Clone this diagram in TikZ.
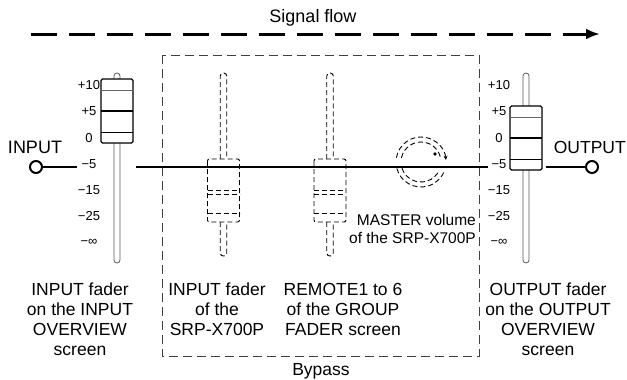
\documentclass[tikz,border=0pt]{standalone}
\usepackage{fontspec}
\setmainfont{Liberation Sans}
\usetikzlibrary{arrows.meta}

\tikzset{
  labeltext/.style={font=\fontsize{17.5}{20}\selectfont, align=center, inner sep=0pt},
  smalltext/.style={font=\fontsize{15.5}{18}\selectfont, align=right, inner sep=0pt},
  scaletext/.style={font=\fontsize{13}{13}\selectfont, inner sep=0pt},
  jack/.style={circle, draw, line width=2pt, minimum size=12pt, inner sep=0pt, fill=white},
  signal/.style={line width=2.4pt},
  flow/.style={line width=3pt, dash pattern=on 26pt off 12pt, -{Latex[length=14pt,width=11pt]}},
  bypass/.style={draw=black!75, line width=0.9pt, dash pattern=on 9pt off 5pt},
  ghost/.style={line width=0.9pt, dash pattern=on 5pt off 3pt},
}

% real fader: x of slot, y of knob top
\newcommand{\realfader}[2]{%
  \draw[line width=0.8pt, black!65, rounded corners=3pt] (#1-3,263) -- (#1-3,73) -- (#1+3,73) -- (#1+3,263) -- cycle;
  \draw[line width=1.1pt, fill=white, rounded corners=1.5pt] (#1-16,#2) rectangle (#1+16,#2+64);
  \draw[line width=1pt, black!60] (#1-16,#2+11) -- (#1+16,#2+11);
  \draw[line width=2.5pt] (#1-16,#2+32) -- (#1+16,#2+32);
  \draw[line width=1pt] (#1-16,#2+53) -- (#1+16,#2+53);
}
% dashed fader: x of slot
\newcommand{\ghostfader}[1]{%
  \draw[ghost, rounded corners=3pt] (#1-3.25,159) -- (#1-3.25,73) -- (#1+3.25,73) -- (#1+3.25,159);
  \draw[ghost, rounded corners=3pt] (#1-3.25,222) -- (#1-3.25,256) -- (#1+3.25,256) -- (#1+3.25,222);
  \draw[ghost, rounded corners=2pt] (#1-16,159) rectangle (#1+16,222);
  \draw[ghost] (#1-16,190) -- (#1+16,190);
  \draw[ghost] (#1-16,194) -- (#1+16,194);
  \draw[ghost] (#1-16,213) -- (#1+16,213);
}

\begin{document}
\begin{tikzpicture}[x=1pt, y=-1pt]
  \useasboundingbox (0,0) rectangle (627,380);

  % signal flow
  \node[labeltext, font=\fontsize{18}{20}\selectfont] (flowlabel) at (313,18) {Signal flow};
  \coordinate (flowstart) at (31,34);
  \coordinate (flowend) at (600,34);
  \draw[flow] (flowstart) -- (flowend);

  % bypass box
  \draw[bypass] (162,55) rectangle (479,356);
  \node[labeltext, anchor=base] (bypasslabel) at (321,375) {Bypass};

  % input and output
  \node[labeltext, font=\fontsize{18}{20}\selectfont] (inlabel) at (35,147) {INPUT};
  \node[labeltext, font=\fontsize{17.5}{20}\selectfont, anchor=east] (outlabel) at (626,147) {OUTPUT};
  \node[jack] (in) at (36,167) {};
  \node[jack] (out) at (592,167) {};
  \coordinate (inend) at (77,167);
  \coordinate (midstart) at (136,167);
  \coordinate (midend) at (488,167);
  \coordinate (outstart) at (546,167);
  \draw[signal] (in) -- (inend);
  \draw[signal] (midstart) -- (midend);
  \draw[signal] (outstart) -- (out);

  % scales
  \foreach \t [count=\i from 0] in {+10,+5,0,−5,−15,−25,−∞} {
    \node[scaletext] (inscale\i) at (89,85+26.3*\i) {\t};
    \node[scaletext] (outscale\i) at (499,85+26.3*\i) {\t};
  }

  % faders
  \realfader{117}{79}
  \realfader{526}{106}
  \ghostfader{223.5}
  \ghostfader{330}

  % master volume
  \begin{scope}[shift={(421,162)}, y=1pt]
    \draw[ghost, -{Stealth[length=4pt,width=4pt]}] (170:25) arc[start angle=170, end angle=5, radius=25];
    \draw[ghost] (195:25) arc[start angle=195, end angle=338, radius=25];
    \draw[ghost] (168:20) arc[start angle=168, end angle=12, radius=20];
    \draw[ghost] (198:20) arc[start angle=198, end angle=335, radius=20];
    \fill (14,8) circle[radius=1.8];
  \end{scope}
  \node[smalltext, anchor=north east] (masterlabel) at (476,214) {MASTER volume\\of the SRP-X700P};

  % captions
  \node[labeltext, anchor=north] (cap1) at (80,283) {INPUT fader\\on the INPUT\\OVERVIEW\\screen};
  \node[labeltext, anchor=north] (cap2) at (217,283) {INPUT fader\\of the\\SRP-X700P};
  \node[labeltext, anchor=north] (cap3) at (343,283) {REMOTE1 to 6\\of the GROUP\\FADER screen};
  \node[labeltext, anchor=north] (cap4) at (548,283) {OUTPUT fader\\on the OUTPUT\\OVERVIEW\\screen};
\end{tikzpicture}
\end{document}
